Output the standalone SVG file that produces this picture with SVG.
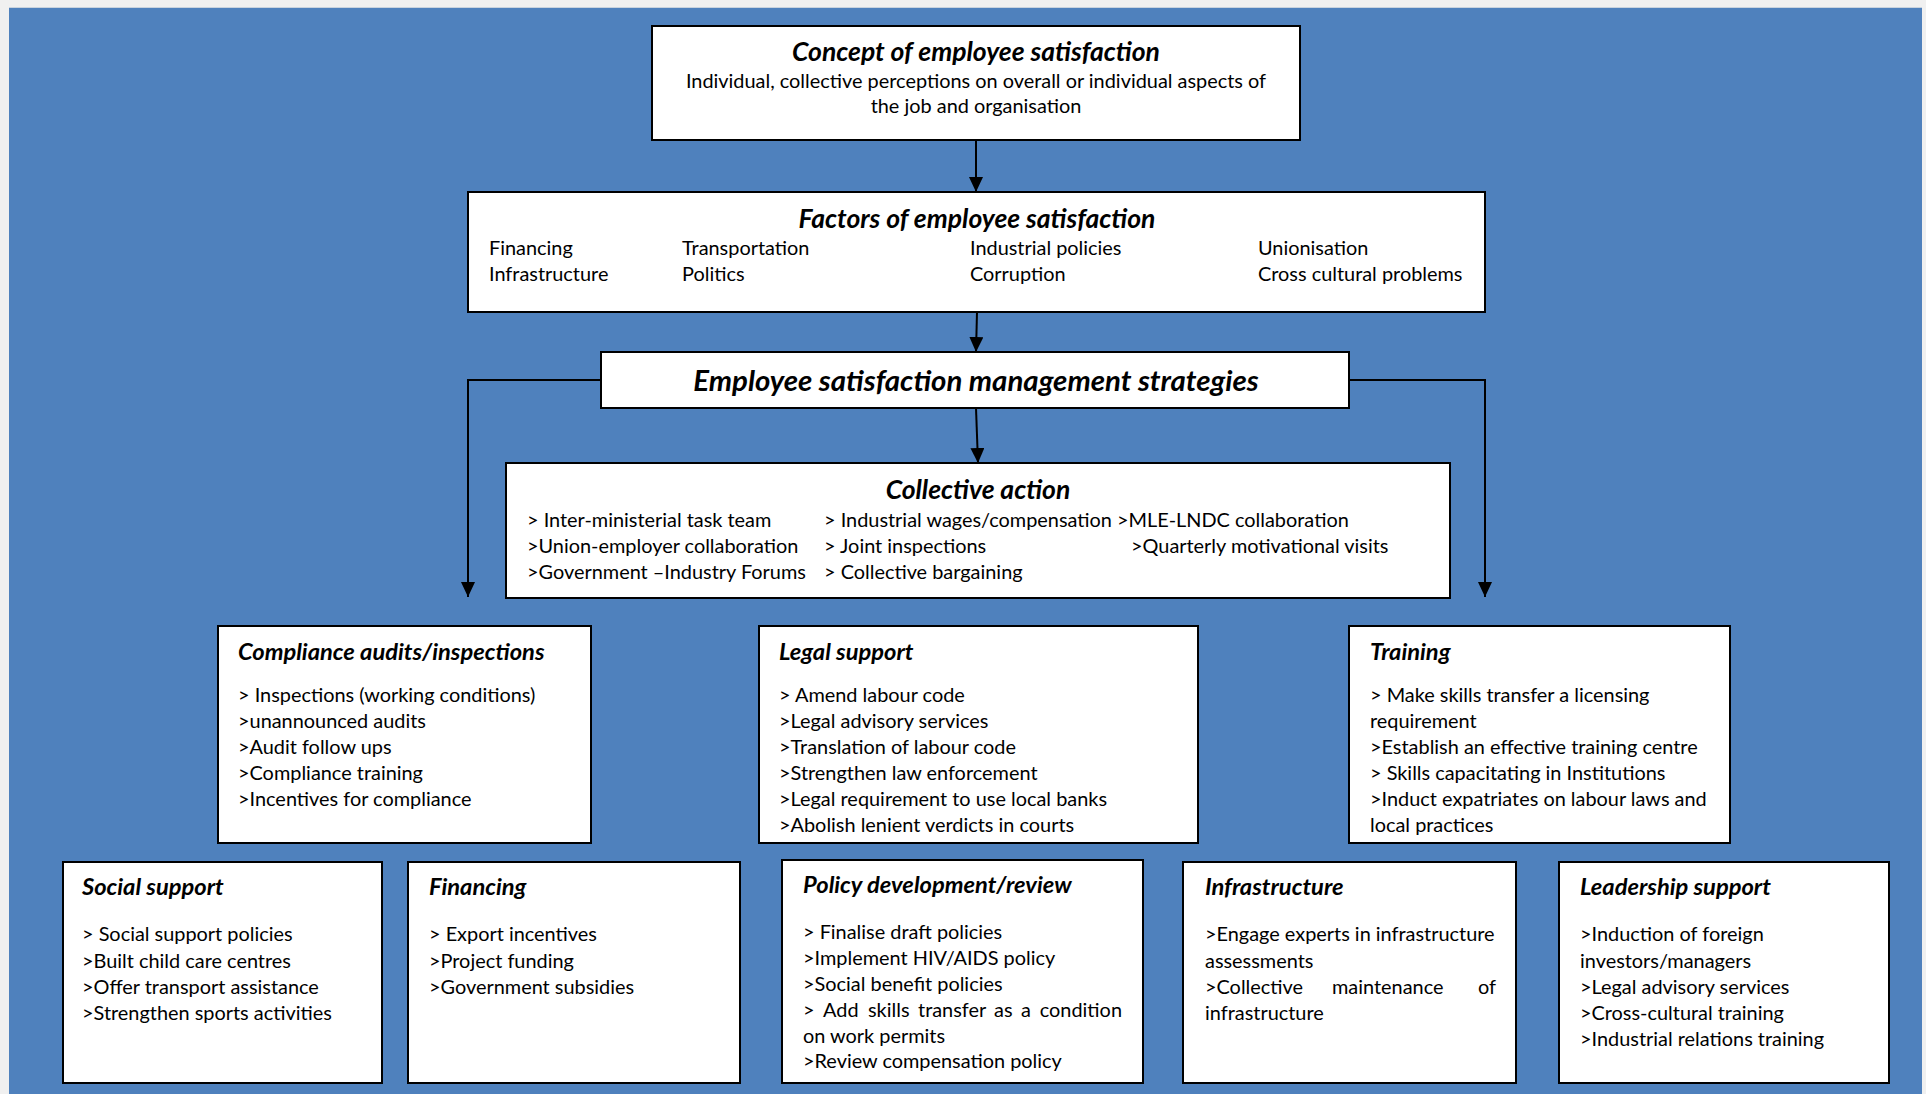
<svg xmlns="http://www.w3.org/2000/svg" width="1926" height="1094" viewBox="0 0 1926 1094">
  <style>
    .box { fill: #ffffff; stroke: #000000; stroke-width: 2; }
    .hd { font-family: Lato, "Open Sans", "Liberation Sans", sans-serif; font-weight: bold; font-style: italic; font-size: 23.7px; fill: #000; }
    .hd-main { font-size: 26.5px; }
    .hd-lg { font-size: 29.4px; }
    .tx { font-family: Lato, "Open Sans", "Liberation Sans", sans-serif; font-size: 19.9px; fill: #000; }
    .mid { text-anchor: middle; }
    .conn { stroke: #000000; stroke-width: 2; fill: none; }
  </style>
  <defs>
    <marker id="arrow" viewBox="0 0 15 14" refX="15" refY="7" markerWidth="15" markerHeight="14" markerUnits="userSpaceOnUse" orient="auto">
      <path d="M0,0 L15,7 L0,14 Z" fill="#000"/>
    </marker>
    <clipPath id="clip-training"><rect x="1350" y="627" width="379" height="208"/></clipPath>
    <clipPath id="clip-policy"><rect x="783" y="861" width="359" height="211"/></clipPath>
  </defs>

  <!-- page and blue panel -->
  <rect x="0" y="0" width="1926" height="1094" fill="#f0f0f0"/>
  <rect x="9" y="7" width="1913" height="1087" fill="#4f81bd"/>
  <line x1="9" y1="7.5" x2="1922" y2="7.5" stroke="#c9d3de" stroke-width="1"/>

  <!-- connectors -->
  <g id="connectors">
    <line class="conn" x1="976" y1="140" x2="976" y2="192" marker-end="url(#arrow)"/>
    <line class="conn" x1="977" y1="312" x2="976" y2="352" marker-end="url(#arrow)"/>
    <line class="conn" x1="976" y1="408" x2="978" y2="463" marker-end="url(#arrow)"/>
    <polyline class="conn" points="601,380 468,380 468,597" marker-end="url(#arrow)"/>
    <polyline class="conn" points="1349,380 1485,380 1485,597" marker-end="url(#arrow)"/>
  </g>

  <!-- concept -->
  <g id="concept">
    <rect class="box" x="652" y="26" width="648" height="114"/>
    <text class="hd hd-main mid" x="976" y="61">Concept of employee satisfaction</text>
    <text class="tx mid" x="976" y="88">Individual, collective perceptions on overall or individual aspects of</text>
    <text class="tx mid" x="976" y="113">the job and organisation</text>
  </g>

  <!-- factors -->
  <g id="factors">
    <rect class="box" x="468" y="192" width="1017" height="120"/>
    <text class="hd hd-main mid" x="977" y="228">Factors of employee satisfaction</text>
    <text class="tx" x="489" y="255">Financing</text>
    <text class="tx" x="489" y="281">Infrastructure</text>
    <text class="tx" x="682" y="255">Transportation</text>
    <text class="tx" x="682" y="281">Politics</text>
    <text class="tx" x="970" y="255">Industrial policies</text>
    <text class="tx" x="970" y="281">Corruption</text>
    <text class="tx" x="1258" y="255">Unionisation</text>
    <text class="tx" x="1258" y="281">Cross cultural problems</text>
  </g>

  <!-- strategies -->
  <g id="strategies">
    <rect class="box" x="601" y="352" width="748" height="56"/>
    <text class="hd hd-lg mid" x="976" y="391">Employee satisfaction management strategies</text>
  </g>

  <!-- collective action -->
  <g id="collective-action">
    <rect class="box" x="506" y="463" width="944" height="135"/>
    <text class="hd hd-main mid" x="978" y="499">Collective action</text>
    <text class="tx" x="527" y="527">&gt; Inter-ministerial task team</text>
    <text class="tx" x="527" y="553">&gt;Union-employer collaboration</text>
    <text class="tx" x="527" y="579">&gt;Government –Industry Forums</text>
    <text class="tx" x="824" y="527">&gt; Industrial wages/compensation</text>
    <text class="tx" x="824" y="553">&gt; Joint inspections</text>
    <text class="tx" x="824" y="579">&gt; Collective bargaining</text>
    <text class="tx" x="1117" y="527">&gt;MLE-LNDC collaboration</text>
    <text class="tx" x="1131" y="553">&gt;Quarterly motivational visits</text>
  </g>

  <!-- compliance -->
  <g id="compliance">
    <rect class="box" x="218" y="626" width="373" height="217"/>
    <text class="hd" x="238" y="660">Compliance audits/inspections</text>
    <text class="tx" x="238" y="702">&gt; Inspections (working conditions)</text>
    <text class="tx" x="238" y="728">&gt;unannounced audits</text>
    <text class="tx" x="238" y="754">&gt;Audit follow ups</text>
    <text class="tx" x="238" y="780">&gt;Compliance training</text>
    <text class="tx" x="238" y="806">&gt;Incentives for compliance</text>
  </g>

  <!-- legal support -->
  <g id="legal-support">
    <rect class="box" x="759" y="626" width="439" height="217"/>
    <text class="hd" x="779" y="660">Legal support</text>
    <text class="tx" x="779" y="702">&gt; Amend labour code</text>
    <text class="tx" x="779" y="728">&gt;Legal advisory services</text>
    <text class="tx" x="779" y="754">&gt;Translation of labour code</text>
    <text class="tx" x="779" y="780">&gt;Strengthen law enforcement</text>
    <text class="tx" x="779" y="806">&gt;Legal requirement to use local banks</text>
    <text class="tx" x="779" y="832">&gt;Abolish lenient verdicts in courts</text>
  </g>

  <!-- training -->
  <g id="training">
    <rect class="box" x="1349" y="626" width="381" height="217"/>
    <text class="hd" x="1370" y="660">Training</text>
    <g clip-path="url(#clip-training)">
      <text class="tx" x="1370" y="702">&gt; Make skills transfer a licensing</text>
      <text class="tx" x="1370" y="728">requirement</text>
      <text class="tx" x="1370" y="754">&gt;Establish an effective training centre</text>
      <text class="tx" x="1370" y="780">&gt; Skills capacitating in Institutions</text>
      <text class="tx" x="1370" y="806">&gt;Induct expatriates on labour laws and</text>
      <text class="tx" x="1370" y="832">local practices</text>
    </g>
  </g>

  <!-- social support -->
  <g id="social-support">
    <rect class="box" x="63" y="862" width="319" height="221"/>
    <text class="hd" x="82" y="895">Social support</text>
    <text class="tx" x="82" y="941">&gt; Social support policies</text>
    <text class="tx" x="82" y="968">&gt;Built child care centres</text>
    <text class="tx" x="82" y="994">&gt;Offer transport assistance</text>
    <text class="tx" x="82" y="1020">&gt;Strengthen sports activities</text>
  </g>

  <!-- financing -->
  <g id="financing">
    <rect class="box" x="408" y="862" width="332" height="221"/>
    <text class="hd" x="429" y="895">Financing</text>
    <text class="tx" x="429" y="941">&gt; Export incentives</text>
    <text class="tx" x="429" y="968">&gt;Project funding</text>
    <text class="tx" x="429" y="994">&gt;Government subsidies</text>
  </g>

  <!-- policy development -->
  <g id="policy-development">
    <rect class="box" x="782" y="860" width="361" height="223"/>
    <text class="hd" x="803" y="893">Policy development/review</text>
    <g clip-path="url(#clip-policy)">
      <text class="tx" x="803" y="939">&gt; Finalise draft policies</text>
      <text class="tx" x="803" y="965">&gt;Implement HIV/AIDS policy</text>
      <text class="tx" x="803" y="991">&gt;Social benefit policies</text>
      <!-- justified line: words spread to the right margin -->
      <text class="tx" y="1017"><tspan x="803">&gt;</tspan><tspan x="823">Add</tspan><tspan x="868">skills</tspan><tspan x="918">transfer</tspan><tspan x="994">as</tspan><tspan x="1021">a</tspan><tspan x="1122" text-anchor="end">condition</tspan></text>
      <text class="tx" x="803" y="1043">on work permits</text>
      <text class="tx" x="803" y="1068">&gt;Review compensation policy</text>
    </g>
  </g>

  <!-- infrastructure -->
  <g id="infrastructure">
    <rect class="box" x="1183" y="862" width="333" height="221"/>
    <text class="hd" x="1205" y="895">Infrastructure</text>
    <text class="tx" x="1205" y="941">&gt;Engage experts in infrastructure</text>
    <text class="tx" x="1205" y="968">assessments</text>
    <text class="tx" y="994"><tspan x="1205">&gt;Collective</tspan><tspan x="1332">maintenance</tspan><tspan x="1496" text-anchor="end">of</tspan></text>
    <text class="tx" x="1205" y="1020">infrastructure</text>
  </g>

  <!-- leadership support -->
  <g id="leadership-support">
    <rect class="box" x="1559" y="862" width="330" height="221"/>
    <text class="hd" x="1580" y="895">Leadership support</text>
    <text class="tx" x="1580" y="941">&gt;Induction of foreign</text>
    <text class="tx" x="1580" y="968">investors/managers</text>
    <text class="tx" x="1580" y="994">&gt;Legal advisory services</text>
    <text class="tx" x="1580" y="1020">&gt;Cross-cultural training</text>
    <text class="tx" x="1580" y="1046">&gt;Industrial relations training</text>
  </g>
</svg>
